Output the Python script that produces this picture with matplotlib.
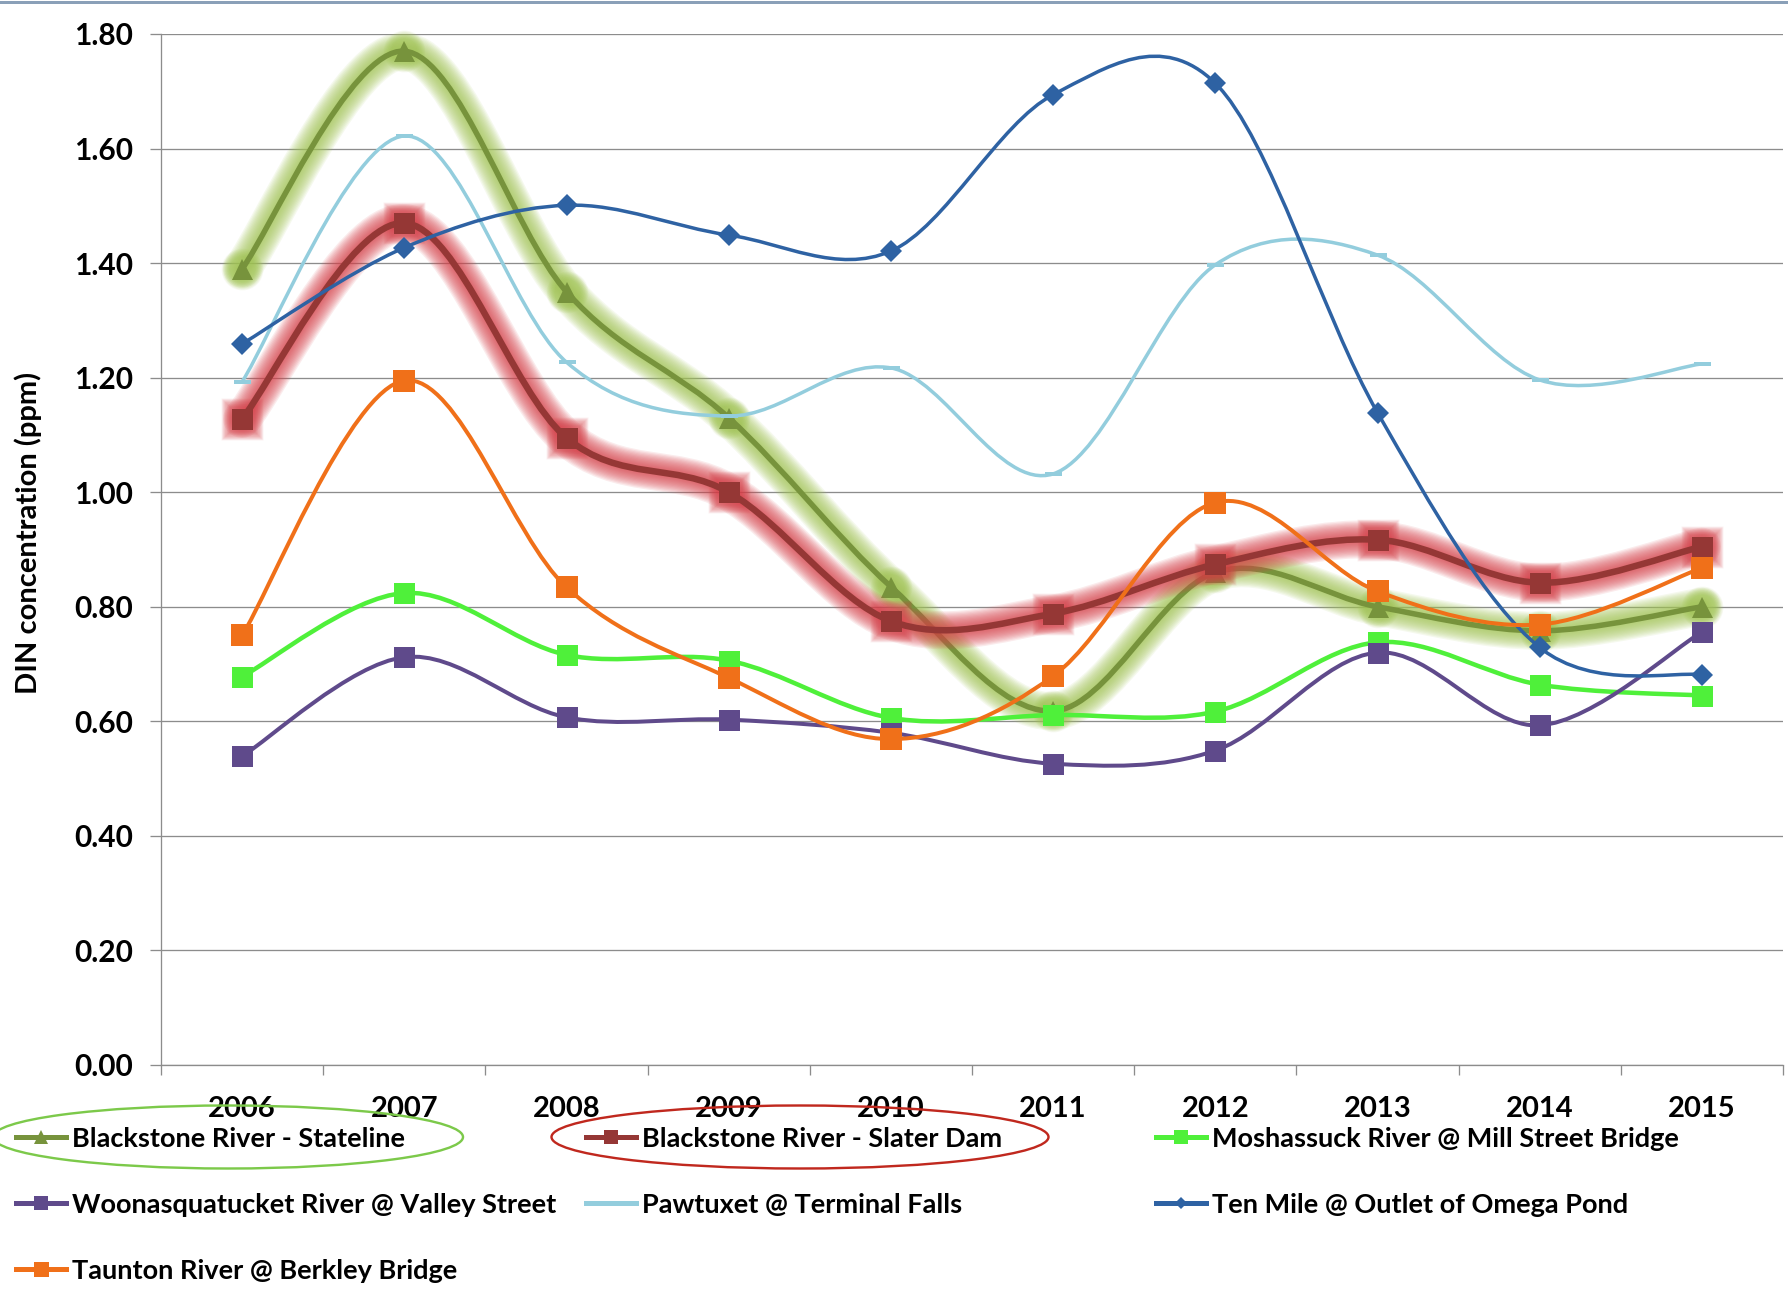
import numpy as np
import matplotlib

matplotlib.use('Agg')
import matplotlib.pyplot as plt
from matplotlib.path import Path
from matplotlib.patches import PathPatch, Ellipse
from matplotlib.lines import Line2D

plt.rcParams['font.family'] = ['Lato', 'DejaVu Sans']

# DIN concentration by site (ppm), 2006-2015
years = ['2006', '2007', '2008', '2009', '2010', '2011', '2012', '2013', '2014', '2015']
stateline = [1.39, 1.77, 1.35, 1.13, 0.835, 0.618, 0.86, 0.80, 0.758, 0.80]
slater_dam = [1.128, 1.47, 1.095, 1.00, 0.775, 0.788, 0.874, 0.917, 0.842, 0.905]
moshassuck = [0.678, 0.824, 0.716, 0.706, 0.606, 0.611, 0.617, 0.738, 0.664, 0.645]
woonasquatucket = [0.539, 0.712, 0.607, 0.603, 0.580, 0.526, 0.549, 0.720, 0.593, 0.756]
pawtuxet = [1.193, 1.622, 1.227, 1.133, 1.217, 1.032, 1.397, 1.414, 1.196, 1.224]
ten_mile = [1.259, 1.427, 1.501, 1.449, 1.421, 1.694, 1.714, 1.139, 0.729, 0.681]
taunton = [0.750, 1.195, 0.834, 0.676, 0.569, 0.679, 0.982, 0.827, 0.769, 0.868]

W, H = 1788, 1290
PX = 0.72  # points per pixel at 100 dpi


def smooth_path(xs, ys):
    # bezier through the points, same tangents as a spreadsheet "smoothed line"
    xs = np.asarray(xs, float)
    ys = np.asarray(ys, float)
    n = len(xs)
    verts = [(xs[0], ys[0])]
    codes = [Path.MOVETO]
    for i in range(n - 1):
        a = max(i - 1, 0)
        b = min(i + 2, n - 1)
        verts.append((xs[i] + (xs[i + 1] - xs[a]) / 6, ys[i] + (ys[i + 1] - ys[a]) / 6))
        verts.append((xs[i + 1] - (xs[b] - xs[i]) / 6, ys[i + 1] - (ys[b] - ys[i]) / 6))
        verts.append((xs[i + 1], ys[i + 1]))
        codes += [Path.CURVE4] * 3
    return Path(verts, codes)


# label, values, line colour, marker, marker size px, line width px, glow colour
series = [
    ('Blackstone River - Stateline', stateline, '#77933c', '^', 21, 5.5, '#a3c655'),
    ('Blackstone River - Slater Dam', slater_dam, '#953735', 's', 21, 6.5, '#d8424a'),
    ('Moshassuck River @ Mill Street Bridge', moshassuck, '#4ff03a', 's', 21, 4.5, None),
    ('Woonasquatucket River @ Valley Street', woonasquatucket, '#5f4a8b', 's', 21, 4, None),
    ('Pawtuxet @ Terminal Falls', pawtuxet, '#93cddd', '_', 17, 3.5, None),
    ('Ten Mile @ Outlet of Omega Pond', ten_mile, '#2e62a3', 'D', 16, 3.5, None),
    ('Taunton River @ Berkley Bridge', taunton, '#f07019', 's', 22, 4, None),
]

fig = plt.figure(figsize=(W / 100, H / 100), dpi=100)
ax = fig.add_axes([161 / W, 1 - 1065 / H, (1783 - 161) / W, (1065 - 34) / H])

x = np.arange(len(years))
z = 3
for label, vals, color, marker, ms, lw, glow in series:
    path = smooth_path(x, vals)
    if glow:
        # soft halo built from many thin translucent strokes
        for width in np.linspace(38, 8, 13):
            ax.add_patch(PathPatch(path, fc='none', ec=glow, lw=width * PX, alpha=0.1,
                                   capstyle='round', joinstyle='round', zorder=z))
            ax.plot(x, vals, ls='none', marker='s' if marker == 's' else 'o',
                    ms=(ms + width * 0.55) * PX, mfc=glow, mec='none', alpha=0.07,
                    zorder=z, clip_on=False)
    ax.add_patch(PathPatch(path, fc='none', ec=color, lw=lw * PX, capstyle='round',
                           joinstyle='round', zorder=z + 0.1))
    if marker == '_':
        ax.plot(x, vals, ls='none', marker='_', ms=ms * PX, mew=4 * PX, color=color,
                zorder=z + 0.2, clip_on=False)
    else:
        ax.plot(x, vals, ls='none', marker=marker, ms=ms * PX, mfc=color, mec=color,
                mew=0, zorder=z + 0.2, clip_on=False)
    z += 1

ax.set_xlim(-0.5, len(years) - 0.5)
ax.set_ylim(0, 1.8)
ax.set_yticks(np.arange(0, 1.81, 0.2))
ax.set_yticklabels(['%.2f' % v for v in np.arange(0, 1.81, 0.2)])
ax.set_xticks(x)
ax.set_xticklabels(years)
ax.set_xticks(np.arange(-0.5, len(years)), minor=True)

ax.grid(axis='y', color='#8c8c8c', lw=1.3 * PX, zorder=1)
for side in ['top', 'right']:
    ax.spines[side].set_visible(False)
for side in ['left', 'bottom']:
    ax.spines[side].set_color('#8c8c8c')
    ax.spines[side].set_linewidth(1.3 * PX)

ax.tick_params(axis='y', length=11 * PX, width=1.3 * PX, color='#8c8c8c', pad=12,
               labelsize=21.5)
ax.tick_params(axis='x', which='major', length=0, pad=22, labelsize=21)
ax.tick_params(axis='x', which='minor', length=10 * PX, width=1.3 * PX, color='#8c8c8c')
for t in ax.get_xticklabels() + ax.get_yticklabels():
    t.set_fontweight('bold')

fig.text(28 / W, 1 - 533 / H, 'DIN concentration (ppm)', rotation=90, fontsize=21,
         fontweight='bold', ha='center', va='center')

# legend, three columns filled row by row
col_x = [16, 586, 1156]
row_y = [1137, 1203, 1269]
for i, (label, vals, color, marker, ms, lw, glow) in enumerate(series):
    cx = col_x[i % 3]
    cy = 1 - row_y[i // 3] / H
    x0, x1 = cx / W, (cx + 50) / W
    fig.add_artist(Line2D([x0, x1], [cy, cy], color=color, lw=5 * PX,
                          transform=fig.transFigure))
    if marker != '_':
        fig.add_artist(Line2D([(x0 + x1) / 2], [cy], ls='none', marker=marker,
                              ms=(ms - 7) * PX, mfc=color, mec=color, mew=0,
                              transform=fig.transFigure))
    fig.text((cx + 56) / W, cy, label, fontsize=19.5, fontweight='bold',
             ha='left', va='center_baseline')

# highlight rings round the two Blackstone entries
fig.add_artist(Ellipse((228 / W, 1 - 1137 / H), 470 / W, 63 / H, fill=False,
                       ec='#7cc94a', lw=2.4 * PX, transform=fig.transFigure))
fig.add_artist(Ellipse((800 / W, 1 - 1137 / H), 497 / W, 63 / H, fill=False,
                       ec='#c0281e', lw=2.4 * PX, transform=fig.transFigure))

fig.add_artist(Line2D([0, 1], [1 - 1.5 / H, 1 - 1.5 / H], color='#8aa0b8', lw=3 * PX,
                      transform=fig.transFigure))

fig.savefig('out.png', dpi=100)
